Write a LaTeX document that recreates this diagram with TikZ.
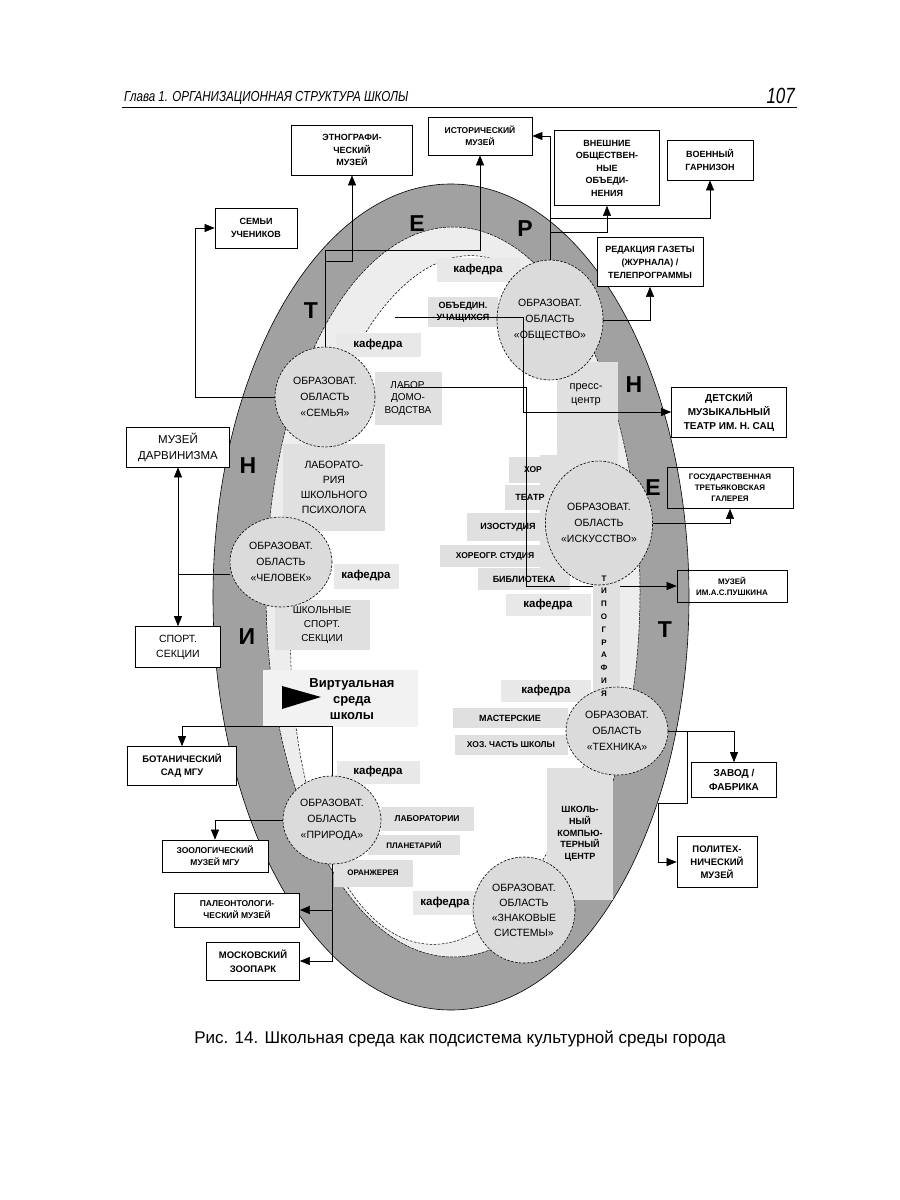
\documentclass[tikz,border=0pt]{standalone}
\usepackage{fontspec}
\usepackage{graphicx}
\setmainfont{Liberation Sans}
\usetikzlibrary{shapes.geometric,arrows.meta}
\definecolor{ringc}{gray}{0.63}
\definecolor{zonec}{gray}{0.93}
\definecolor{circc}{gray}{0.86}
\definecolor{boxc}{gray}{0.88}
\definecolor{kafc}{gray}{0.91}
\definecolor{virtc}{gray}{0.95}
\newcommand{\fs}[2]{\fontsize{#1}{#2}\selectfont}
\begin{document}
\begin{tikzpicture}[x=1pt,y=-1pt,
  ebox/.style={draw, line width=0.7pt, fill=white, align=center, inner sep=0pt},
  obox/.style={draw, line width=0.7pt, align=center, inner sep=0pt},
  gbox/.style={fill=boxc, align=center, inner sep=0pt},
  kbox/.style={fill=kafc, align=center, inner sep=0pt, font=\fs{11.5}{13}\bfseries},
  oblast/.style={ellipse, draw, dash pattern=on 2.5pt off 1.5pt, line width=0.6pt, fill=circc, align=center, inner sep=0pt, font=\fs{10.5}{16}},
  ringl/.style={font=\fs{23}{23}\bfseries, inner sep=0pt},
  arr/.style={-{Triangle[length=10pt,width=8pt]}},
  conn/.style={line width=0.6pt}
]
\useasboundingbox (0,0) rectangle (900,1200);
\fill[white] (0,0) rectangle (900,1200);

% header
\node[anchor=base west, inner sep=0] (hdr) at (124,101) {\scalebox{0.8}[1]{\fs{14.5}{16}\itshape Глава 1. ОРГАНИЗАЦИОННАЯ СТРУКТУРА ШКОЛЫ}};
\node[anchor=base east, inner sep=0] (pg) at (795,103) {\scalebox{0.77}[1]{\fs{22}{24}\itshape 107}};
\draw[line width=0.8pt] (122,107) -- (797,107);

% ellipses
\draw[fill=ringc, line width=0.6pt] (451,597) ellipse [x radius=238pt, y radius=413pt];
\draw[fill=zonec, line width=0.5pt, dash pattern=on 3pt off 1pt] (453,592) ellipse [x radius=187pt, y radius=365pt];
\draw[fill=white, line width=0.5pt, dash pattern=on 2.5pt off 1.5pt, rotate around={-4:(452,600)}] (452,600) ellipse [x radius=160pt, y radius=345pt];

% inner grey boxes
\node[kbox, minimum width=83pt, minimum height=24pt] (kaf1) at (478,270) {кафедра};
\node[gbox, minimum width=70pt, minimum height=30pt, font=\fs{9}{11.5}\bfseries] (obed) at (463,312) {ОБЪЕДИН.\\УЧАЩИХСЯ};
\node[kbox, minimum width=85pt, minimum height=24pt] (kaf2) at (378,345) {кафедра};
\node[gbox, minimum width=67pt, minimum height=53pt, font=\fs{10}{12.5}] (labdom) at (408,398) {ЛАБОР.\\ДОМО-\\ВОДСТВА};
\fill[boxc] (557,362) rectangle (618,458);
\fill[boxc] (540,455) rectangle (618,575);
\node[font=\fs{11}{14}, align=center, inner sep=0] (press) at (586,395) {пресс-\\центр};
\node[gbox, minimum width=48pt, minimum height=26pt, font=\fs{8.5}{10}\bfseries] (hor) at (533,470) {ХОР};
\node[gbox, minimum width=50pt, minimum height=25pt, font=\fs{9}{10}\bfseries] (teatr) at (530,497) {ТЕАТР};
\node[gbox, minimum width=83pt, minimum height=28pt, font=\fs{9}{10}\bfseries] (izo) at (508,527) {ИЗОСТУДИЯ};
\node[gbox, minimum width=110pt, minimum height=22pt, font=\fs{8.5}{10}\bfseries] (horeo) at (495,556) {ХОРЕОГР. СТУДИЯ};
\node[gbox, minimum width=92pt, minimum height=22pt, font=\fs{9}{10}\bfseries] (bibl) at (524,579) {БИБЛИОТЕКА};
\node[kbox, minimum width=85pt, minimum height=22pt] (kaf3) at (548,605) {кафедра};
\node[kbox, minimum width=90pt, minimum height=22pt] (kaf4) at (546,691) {кафедра};
\node[gbox, minimum width=115pt, minimum height=20pt, font=\fs{9}{10}\bfseries] (mast) at (510,718) {МАСТЕРСКИЕ};
\node[gbox, minimum width=113pt, minimum height=20pt, font=\fs{8.5}{10}\bfseries] (hoz) at (511,745) {ХОЗ. ЧАСТЬ ШКОЛЫ};
\node[gbox, minimum width=66pt, minimum height=132pt, font=\fs{9}{11.7}\bfseries] (comp) at (580,834) {ШКОЛЬ-\\НЫЙ\\КОМПЬЮ-\\ТЕРНЫЙ\\ЦЕНТР};
\node[gbox, minimum width=102pt, minimum height=87pt, font=\fs{10.5}{15}] (psych) at (334,487) {ЛАБОРАТО-\\РИЯ\\ШКОЛЬНОГО\\ПСИХОЛОГА};
\node[kbox, minimum width=65pt, minimum height=25pt] (kaf5) at (366,576) {кафедра};
\node[gbox, minimum width=95pt, minimum height=50pt, font=\fs{10}{14}] (sportsec) at (322,625) {ШКОЛЬНЫЕ\\СПОРТ.\\СЕКЦИИ};
\node[fill=virtc, minimum width=155pt, minimum height=57pt, inner sep=0] (virt) at (340,698) {};
\node[font=\fs{13}{16}\bfseries, align=center, inner sep=0] (virtt) at (352,699) {Виртуальная\\среда\\школы};
\fill (282,686) -- (321,697) -- (282,709) -- cycle;
\node[kbox, minimum width=83pt, minimum height=23pt] (kaf6) at (378,772) {кафедра};
\node[gbox, minimum width=93pt, minimum height=24pt, font=\fs{8.5}{10}\bfseries] (labor) at (427,819) {ЛАБОРАТОРИИ};
\node[gbox, minimum width=92pt, minimum height=20pt, font=\fs{8}{10}\bfseries] (planet) at (414,845) {ПЛАНЕТАРИЙ};
\node[gbox, minimum width=79pt, minimum height=27pt, font=\fs{8}{10}\bfseries] (oranzh) at (373,873) {ОРАНЖЕРЕЯ};
\node[kbox, minimum width=64pt, minimum height=24pt] (kaf7) at (445,903) {кафедра};

% line hidden behind the circle and the strip
\coordinate (j4) at (400,387);
\node[obox, minimum width=110pt, minimum height=32pt, font=\fs{8}{11}\bfseries] (push) at (732,586) {МУЗЕЙ\\ИМ.А.С.ПУШКИНА};
\draw[conn,arr] (j4) -- ++(126,0) |- (push.west);
\fill[boxc] (593,572) rectangle (620,700);

% circles
\node[oblast, minimum width=106pt, minimum height=120pt] (obsh) at (550,320) {ОБРАЗОВАТ.\\ОБЛАСТЬ\\«ОБЩЕСТВО»};
\node[oblast, minimum width=100pt, minimum height=100pt] (semya) at (325,397) {ОБРАЗОВАТ.\\ОБЛАСТЬ\\«СЕМЬЯ»};
\node[oblast, minimum width=102pt, minimum height=90pt] (chel) at (281,562) {ОБРАЗОВАТ.\\ОБЛАСТЬ\\«ЧЕЛОВЕК»};
\node[oblast, minimum width=106pt, minimum height=124pt] (isk) at (599,523) {ОБРАЗОВАТ.\\ОБЛАСТЬ\\«ИСКУССТВО»};
\node[oblast, minimum width=102pt, minimum height=88pt] (tech) at (617,731) {ОБРАЗОВАТ.\\ОБЛАСТЬ\\«ТЕХНИКА»};
\node[oblast, minimum width=98pt, minimum height=88pt] (prir) at (332,820) {ОБРАЗОВАТ.\\ОБЛАСТЬ\\«ПРИРОДА»};
\node[oblast, minimum width=102pt, minimum height=106pt, font=\fs{10.5}{15}] (znak) at (524,910) {ОБРАЗОВАТ.\\ОБЛАСТЬ\\«ЗНАКОВЫЕ\\СИСТЕМЫ»};
\node[align=center, inner sep=0, font=\fs{8}{12.8}\bfseries] (typo) at (604,636) {Т\\И\\П\\О\\Г\\Р\\А\\Ф\\И\\Я};

% ring letters
\node[ringl] (l1) at (417,224) {Е};
\node[ringl] (l2) at (525,229) {Р};
\node[ringl] (l3) at (311,311) {Т};
\node[ringl] (l4) at (634,385) {Н};
\node[ringl] (l5) at (248,466) {Н};
\node[ringl] (l6) at (653,488) {Е};
\node[ringl] (l7) at (665,630) {Т};
\node[ringl] (l8) at (247,637) {И};

% external boxes
\node[ebox, minimum width=121pt, minimum height=50pt, font=\fs{9}{12.5}\bfseries] (ethno) at (352,150) {ЭТНОГРАФИ-\\ЧЕСКИЙ\\МУЗЕЙ};
\node[ebox, minimum width=104pt, minimum height=38pt, font=\fs{8.5}{12}\bfseries] (ist) at (480,136) {ИСТОРИЧЕСКИЙ\\МУЗЕЙ};
\node[ebox, minimum width=105pt, minimum height=75pt, font=\fs{9}{12.5}\bfseries] (vnesh) at (607,168) {ВНЕШНИЕ\\ОБЩЕСТВЕН-\\НЫЕ\\ОБЪЕДИ-\\НЕНИЯ};
\node[ebox, minimum width=86pt, minimum height=40pt, font=\fs{9}{13}\bfseries] (voen) at (710,160) {ВОЕННЫЙ\\ГАРНИЗОН};
\node[ebox, minimum width=106pt, minimum height=49pt, font=\fs{9}{13}\bfseries] (redak) at (650,262) {РЕДАКЦИЯ ГАЗЕТЫ\\(ЖУРНАЛА) /\\ТЕЛЕПРОГРАММЫ};
\node[ebox, minimum width=82pt, minimum height=40pt, font=\fs{9}{13}\bfseries] (semi) at (256,228) {СЕМЬИ\\УЧЕНИКОВ};
\node[ebox, minimum width=115pt, minimum height=50pt, font=\fs{10}{14}\bfseries] (sats) at (729,412) {ДЕТСКИЙ\\МУЗЫКАЛЬНЫЙ\\ТЕАТР ИМ. Н. САЦ};
\node[obox, minimum width=126pt, minimum height=41pt, font=\fs{8}{11}\bfseries] (tret) at (730,488) {ГОСУДАРСТВЕННАЯ\\ТРЕТЬЯКОВСКАЯ\\ГАЛЕРЕЯ};
\node[ebox, minimum width=103pt, minimum height=40pt, font=\fs{11.5}{16}] (darv) at (178,447) {МУЗЕЙ\\ДАРВИНИЗМА};
\node[ebox, minimum width=85pt, minimum height=41pt, font=\fs{10.5}{15}] (sport) at (178,647) {СПОРТ.\\СЕКЦИИ};
\node[ebox, minimum width=109pt, minimum height=39pt, font=\fs{9.5}{13}\bfseries] (botan) at (182,766) {БОТАНИЧЕСКИЙ\\САД МГУ};
\node[ebox, minimum width=106pt, minimum height=32pt, font=\fs{8.5}{12}\bfseries] (zool) at (215,856) {ЗООЛОГИЧЕСКИЙ\\МУЗЕЙ МГУ};
\node[ebox, minimum width=125pt, minimum height=34pt, font=\fs{8.5}{12}\bfseries] (paleo) at (237,910) {ПАЛЕОНТОЛОГИ-\\ЧЕСКИЙ МУЗЕЙ};
\node[ebox, minimum width=93pt, minimum height=38pt, font=\fs{9.5}{14}\bfseries] (zoo) at (253,961) {МОСКОВСКИЙ\\ЗООПАРК};
\node[ebox, minimum width=85pt, minimum height=35pt, font=\fs{10}{14}\bfseries] (zavod) at (734,780) {ЗАВОД /\\ФАБРИКА};
\node[ebox, minimum width=80pt, minimum height=51pt, font=\fs{9.5}{13}\bfseries] (polit) at (717,862) {ПОЛИТЕХ-\\НИЧЕСКИЙ\\МУЗЕЙ};

% connectors
\coordinate (j1) at (325,261);
\coordinate (j2) at (550,218);
\coordinate (j2b) at (550,232);
\coordinate (j3) at (395,317);
\coordinate (j5) at (178,574);
\coordinate (j6) at (687,731);
\draw[conn,arr] (semya.north) -- ++(0,-96) -| (ist.south);
\draw[conn,arr] (j1) -| (ethno.south);
\draw[conn,arr] (semya.west) -- ++(-79,0) |- (semi.west);
\draw[conn,arr] (obsh.north) |- (ist.east);
\draw[conn,arr] (j2) -| (voen.south);
\draw[conn,arr] (j2b) -| (vnesh.south);
\draw[conn,arr] (obsh.east) -| (redak.south);
\draw[conn,arr] (j3) -- ++(128,0) |- (sats.west);
\draw[conn,arr] (isk.east) -| (tret.south);
\draw[conn] (j5) -- (j5 -| chel.west);
\draw[conn,arr] (j5) -- (darv.south);
\draw[conn,arr] (j5) -- (sport.north);
\draw[conn,arr] (tech.east) -| (zavod.north);
\draw[conn,arr] (j6) -- ++(0,72) -- ++(-29,0) |- (polit.west);
\draw[conn,arr] (prir.north) -- ++(0,-49) -| (botan.north);
\draw[conn,arr] (prir.west) -| (zool.north);
\draw[conn,arr] (prir.south) |- (zoo.east);
\draw[conn,arr] (prir.south |- paleo.east) -- (paleo.east);

% caption
\node[anchor=base, inner sep=0, font=\fs{17}{19}] (cap) at (460,1043) {Рис. 14. Школьная среда как подсистема культурной среды города};
\end{tikzpicture}
\end{document}
